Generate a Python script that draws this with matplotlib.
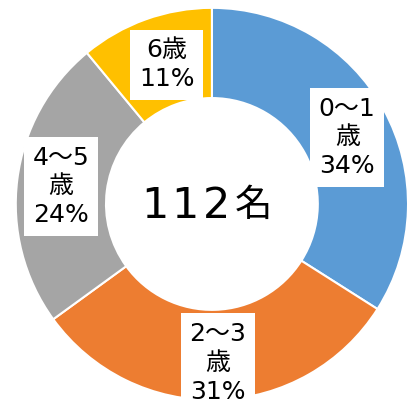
import matplotlib.pyplot as plt

plt.rcParams['font.family'] = ['DejaVu Sans', 'Noto Sans CJK JP']

# データ
labels = ['0～1\n歳', '2～3\n歳', '4～5\n歳', '6歳']
values = [34, 31, 24, 11]
colors = ['#5B9BD5', '#ED7D31', '#A5A5A5', '#FFC000']
total_chars = ['1', '1', '2', '名']

fig = plt.figure(figsize=(4.14, 4.04), dpi=100)
ax = fig.add_axes([0.0, 0.0, 1.0, 1.0])

wedges, _ = ax.pie(values, colors=colors, startangle=90, counterclock=False,
                   radius=1.0, center=(0, 0),
                   wedgeprops=dict(width=0.46, edgecolor='white', linewidth=1.5))

# ラベル位置 (手で調整)
pos = [(0.69, 0.34), (0.03, -0.81), (-0.77, 0.09), (-0.23, 0.71)]
for (x, y), lab, v in zip(pos, labels, values):
    ax.text(x, y, f'{lab}\n{v}%', ha='center', va='center', fontsize=18,
            linespacing=1.25,
            bbox=dict(boxstyle='square,pad=0.35', fc='white', ec='none'))

# 中央の人数 (文字間を広めに)
for cx, ch, fs in zip([-0.29, -0.137, 0.025, 0.21], total_chars, [31, 31, 31, 27]):
    ax.text(cx, -0.01, ch, ha='center', va='center', fontsize=fs)

ax.set_xlim(-1.075, 1.025)
ax.set_ylim(-1.02, 1.04)
ax.set_aspect('equal')
ax.axis('off')

fig.savefig('out.png', dpi=100)
